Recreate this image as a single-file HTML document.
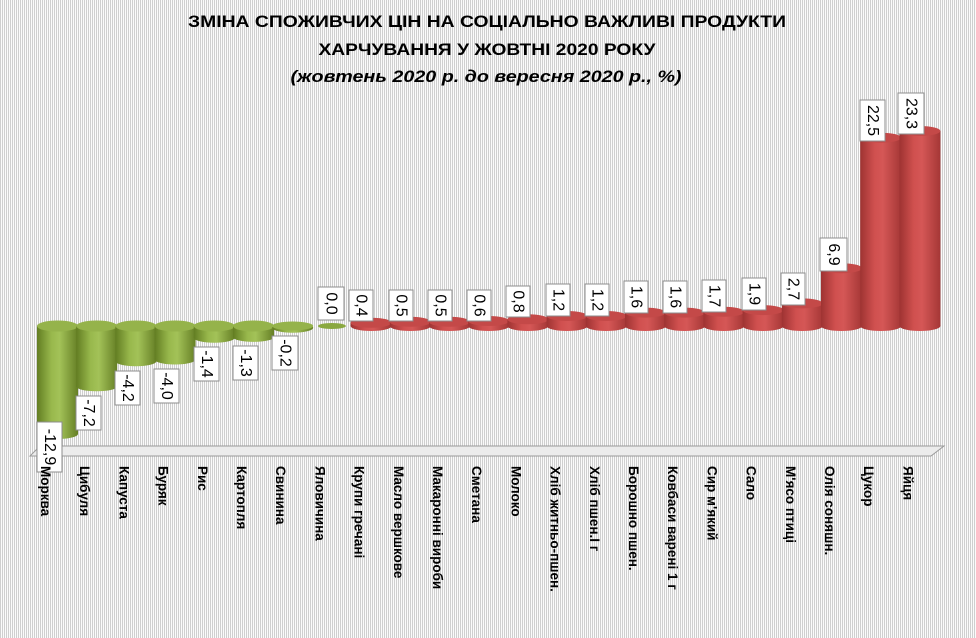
<!DOCTYPE html>
<html><head><meta charset="utf-8"><style>
html,body{margin:0;padding:0}
body{width:976px;height:638px;overflow:hidden;background:repeating-linear-gradient(90deg,#cfcfcf 0,#cfcfcf 1px,#fbfbfb 1px,#fbfbfb 2px)}
svg{position:absolute;left:0;top:0}
text{font-family:"Liberation Sans",sans-serif}
</style></head><body>
<svg width="976" height="638" viewBox="0 0 976 638">
<defs>
<linearGradient id="gG" x1="0" x2="1" y1="0" y2="0">
<stop offset="0" stop-color="#627d22"/><stop offset="0.35" stop-color="#98b84c"/><stop offset="0.55" stop-color="#a3c258"/><stop offset="1" stop-color="#657f25"/></linearGradient>
<linearGradient id="gR" x1="0" x2="1" y1="0" y2="0">
<stop offset="0" stop-color="#9e3332"/><stop offset="0.35" stop-color="#d0504f"/><stop offset="0.55" stop-color="#d55756"/><stop offset="1" stop-color="#a53736"/></linearGradient>
</defs>
<g font-weight="bold" fill="#000" text-anchor="middle">
<text x="487" y="27" font-size="17" textLength="598" lengthAdjust="spacingAndGlyphs">ЗМІНА СПОЖИВЧИХ ЦІН НА СОЦІАЛЬНО ВАЖЛИВІ ПРОДУКТИ</text>
<text x="487" y="55" font-size="17" textLength="337" lengthAdjust="spacingAndGlyphs">ХАРЧУВАННЯ У ЖОВТНІ 2020 РОКУ</text>
<text x="486" y="82" font-size="17" font-style="italic" textLength="391" lengthAdjust="spacingAndGlyphs">(жовтень 2020 р. до вересня 2020 р., %)</text>
</g>
<polygon points="40,446 944,446 931,456 30,456" fill="#ececec" stroke="#9a9a9a" stroke-width="1"/>

<g>
<rect x="37" y="326" width="41" height="108" fill="url(#gG)"/><ellipse cx="57.5" cy="434" rx="20.5" ry="5" fill="url(#gG)"/><ellipse cx="57.5" cy="326" rx="20.5" ry="5.5" fill="#95b34b"/>
<rect x="76.2" y="326" width="41" height="60.3" fill="url(#gG)"/><ellipse cx="96.7" cy="386.3" rx="20.5" ry="5" fill="url(#gG)"/><ellipse cx="96.7" cy="326" rx="20.5" ry="5.5" fill="#95b34b"/>
<rect x="115.4" y="326" width="41" height="35.2" fill="url(#gG)"/><ellipse cx="135.9" cy="361.2" rx="20.5" ry="5" fill="url(#gG)"/><ellipse cx="135.9" cy="326" rx="20.5" ry="5.5" fill="#95b34b"/>
<rect x="154.6" y="326" width="41" height="33.5" fill="url(#gG)"/><ellipse cx="175.1" cy="359.5" rx="20.5" ry="5" fill="url(#gG)"/><ellipse cx="175.1" cy="326" rx="20.5" ry="5.5" fill="#95b34b"/>
<rect x="193.8" y="326" width="41" height="11.7" fill="url(#gG)"/><ellipse cx="214.3" cy="337.7" rx="20.5" ry="5" fill="url(#gG)"/><ellipse cx="214.3" cy="326" rx="20.5" ry="5.5" fill="#95b34b"/>
<rect x="233" y="326" width="41" height="10.9" fill="url(#gG)"/><ellipse cx="253.5" cy="336.9" rx="20.5" ry="5" fill="url(#gG)"/><ellipse cx="253.5" cy="326" rx="20.5" ry="5.5" fill="#95b34b"/>
<ellipse cx="292.7" cy="327.7" rx="20.5" ry="5" fill="url(#gG)"/><ellipse cx="292.7" cy="326" rx="20.5" ry="4.5" fill="#95b34b"/>
<ellipse cx="331.9" cy="326" rx="14" ry="3" fill="#8aa840"/>
</g>
<g>
<rect x="350.6" y="322.7" width="41" height="3.3" fill="url(#gR)"/><ellipse cx="371.1" cy="326" rx="20.5" ry="5" fill="url(#gR)"/><ellipse cx="371.1" cy="322.7" rx="20.5" ry="5" fill="#c44948"/>
<rect x="389.8" y="321.8" width="41" height="4.2" fill="url(#gR)"/><ellipse cx="410.3" cy="326" rx="20.5" ry="5" fill="url(#gR)"/><ellipse cx="410.3" cy="321.8" rx="20.5" ry="5" fill="#c44948"/>
<rect x="429" y="321.8" width="41" height="4.2" fill="url(#gR)"/><ellipse cx="449.5" cy="326" rx="20.5" ry="5" fill="url(#gR)"/><ellipse cx="449.5" cy="321.8" rx="20.5" ry="5" fill="#c44948"/>
<rect x="468.2" y="321" width="41" height="5" fill="url(#gR)"/><ellipse cx="488.7" cy="326" rx="20.5" ry="5" fill="url(#gR)"/><ellipse cx="488.7" cy="321" rx="20.5" ry="5" fill="#c44948"/>
<rect x="507.4" y="319.3" width="41" height="6.7" fill="url(#gR)"/><ellipse cx="527.9" cy="326" rx="20.5" ry="5" fill="url(#gR)"/><ellipse cx="527.9" cy="319.3" rx="20.5" ry="5" fill="#c44948"/>
<rect x="546.6" y="316" width="41" height="10" fill="url(#gR)"/><ellipse cx="567.1" cy="326" rx="20.5" ry="5" fill="url(#gR)"/><ellipse cx="567.1" cy="316" rx="20.5" ry="5" fill="#c44948"/>
<rect x="585.8" y="316" width="41" height="10" fill="url(#gR)"/><ellipse cx="606.3" cy="326" rx="20.5" ry="5" fill="url(#gR)"/><ellipse cx="606.3" cy="316" rx="20.5" ry="5" fill="#c44948"/>
<rect x="625" y="312.6" width="41" height="13.4" fill="url(#gR)"/><ellipse cx="645.5" cy="326" rx="20.5" ry="5" fill="url(#gR)"/><ellipse cx="645.5" cy="312.6" rx="20.5" ry="5" fill="#c44948"/>
<rect x="664.2" y="312.6" width="41" height="13.4" fill="url(#gR)"/><ellipse cx="684.7" cy="326" rx="20.5" ry="5" fill="url(#gR)"/><ellipse cx="684.7" cy="312.6" rx="20.5" ry="5" fill="#c44948"/>
<rect x="703.4" y="311.8" width="41" height="14.2" fill="url(#gR)"/><ellipse cx="723.9" cy="326" rx="20.5" ry="5" fill="url(#gR)"/><ellipse cx="723.9" cy="311.8" rx="20.5" ry="5" fill="#c44948"/>
<rect x="742.6" y="310.1" width="41" height="15.9" fill="url(#gR)"/><ellipse cx="763.1" cy="326" rx="20.5" ry="5" fill="url(#gR)"/><ellipse cx="763.1" cy="310.1" rx="20.5" ry="5" fill="#c44948"/>
<rect x="781.8" y="303.4" width="41" height="22.6" fill="url(#gR)"/><ellipse cx="802.3" cy="326" rx="20.5" ry="5" fill="url(#gR)"/><ellipse cx="802.3" cy="303.4" rx="20.5" ry="5" fill="#c44948"/>
<rect x="821" y="268.2" width="41" height="57.8" fill="url(#gR)"/><ellipse cx="841.5" cy="326" rx="20.5" ry="5" fill="url(#gR)"/><ellipse cx="841.5" cy="268.2" rx="20.5" ry="5" fill="#c44948"/>
<rect x="860.2" y="137.7" width="41" height="188.3" fill="url(#gR)"/><ellipse cx="880.7" cy="326" rx="20.5" ry="5" fill="url(#gR)"/><ellipse cx="880.7" cy="137.7" rx="20.5" ry="5" fill="#c44948"/>
<rect x="899.4" y="131" width="41" height="195" fill="url(#gR)"/><ellipse cx="919.9" cy="326" rx="20.5" ry="5" fill="url(#gR)"/><ellipse cx="919.9" cy="131" rx="20.5" ry="5" fill="#c44948"/>
</g>

<g fill="#fff" stroke="#8c8c8c" stroke-width="1">
<rect x="37" y="422" width="25" height="50"/>
<rect x="76" y="396" width="25" height="34"/>
<rect x="115" y="371" width="25" height="34"/>
<rect x="154" y="369" width="25" height="34"/>
<rect x="194" y="347" width="25" height="34"/>
<rect x="233" y="346" width="25" height="34"/>
<rect x="272" y="336" width="26" height="34"/>
<rect x="318" y="287" width="26" height="33"/>
<rect x="349" y="290" width="24" height="31"/>
<rect x="389" y="290" width="24" height="31"/>
<rect x="428" y="290" width="24" height="31"/>
<rect x="467" y="290" width="24" height="31"/>
<rect x="506" y="286" width="24" height="31"/>
<rect x="546" y="284" width="24" height="32"/>
<rect x="585" y="284" width="24" height="32"/>
<rect x="624" y="281" width="24" height="32"/>
<rect x="663" y="281" width="24" height="32"/>
<rect x="702" y="280" width="24" height="32"/>
<rect x="742" y="278" width="24" height="32"/>
<rect x="781" y="273" width="24" height="32"/>
<rect x="820" y="238" width="27" height="33"/>
<rect x="860" y="100" width="25" height="41"/>
<rect x="898" y="93" width="26" height="41"/>
</g>
<g font-size="16" fill="#000" text-anchor="middle" dominant-baseline="central">
<text transform="translate(49.5,447) rotate(90)">-12,9</text>
<text transform="translate(88.5,413) rotate(90)">-7,2</text>
<text transform="translate(127.5,388) rotate(90)">-4,2</text>
<text transform="translate(166.5,386) rotate(90)">-4,0</text>
<text transform="translate(206.5,364) rotate(90)">-1,4</text>
<text transform="translate(245.5,363) rotate(90)">-1,3</text>
<text transform="translate(285,353) rotate(90)">-0,2</text>
<text transform="translate(331,303.5) rotate(90)">0,0</text>
<text transform="translate(361,305.5) rotate(90)">0,4</text>
<text transform="translate(401,305.5) rotate(90)">0,5</text>
<text transform="translate(440,305.5) rotate(90)">0,5</text>
<text transform="translate(479,305.5) rotate(90)">0,6</text>
<text transform="translate(518,301.5) rotate(90)">0,8</text>
<text transform="translate(558,300) rotate(90)">1,2</text>
<text transform="translate(597,300) rotate(90)">1,2</text>
<text transform="translate(636,297) rotate(90)">1,6</text>
<text transform="translate(675,297) rotate(90)">1,6</text>
<text transform="translate(714,296) rotate(90)">1,7</text>
<text transform="translate(754,294) rotate(90)">1,9</text>
<text transform="translate(793,289) rotate(90)">2,7</text>
<text transform="translate(833.5,254.5) rotate(90)">6,9</text>
<text transform="translate(872.5,120.5) rotate(90)">22,5</text>
<text transform="translate(911,113.5) rotate(90)">23,3</text>
</g>

<g font-size="13.5" font-weight="bold" fill="#000" dominant-baseline="central">
<text transform="translate(45.5,466) rotate(90)">Морква</text>
<text transform="translate(84.7,466) rotate(90)">Цибуля</text>
<text transform="translate(123.9,466) rotate(90)">Капуста</text>
<text transform="translate(163.1,466) rotate(90)">Буряк</text>
<text transform="translate(202.3,466) rotate(90)">Рис</text>
<text transform="translate(241.5,466) rotate(90)">Картопля</text>
<text transform="translate(280.7,466) rotate(90)">Свинина</text>
<text transform="translate(319.9,466) rotate(90)">Яловичина</text>
<text transform="translate(359.1,466) rotate(90)">Крупи гречані</text>
<text transform="translate(398.3,466) rotate(90)">Масло вершкове</text>
<text transform="translate(437.5,466) rotate(90)">Макаронні вироби</text>
<text transform="translate(476.7,466) rotate(90)">Сметана</text>
<text transform="translate(515.9,466) rotate(90)">Молоко</text>
<text transform="translate(555.1,466) rotate(90)">Хліб  житньо-пшен.</text>
<text transform="translate(594.3,466) rotate(90)">Хліб пшен.І г</text>
<text transform="translate(633.5,466) rotate(90)">Борошно пшен.</text>
<text transform="translate(672.7,466) rotate(90)">Ковбаси варені 1 г</text>
<text transform="translate(711.9,466) rotate(90)">Сир м'який</text>
<text transform="translate(751.1,466) rotate(90)">Сало</text>
<text transform="translate(790.3,466) rotate(90)">М'ясо птиці</text>
<text transform="translate(829.5,466) rotate(90)">Олія соняшн.</text>
<text transform="translate(868.7,466) rotate(90)">Цукор</text>
<text transform="translate(907.9,466) rotate(90)">Яйця</text>
</g>
</svg>
</body></html>
